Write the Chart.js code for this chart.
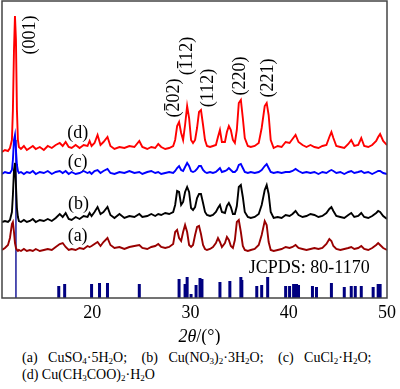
<!DOCTYPE html>
<html>
<head>
<meta charset="utf-8">
<script src="https://cdn.jsdelivr.net/npm/chart.js@4"></script>
<style>
  body { margin: 0; background: #fff; }
  #wrap { position: relative; width: 400px; height: 345px; }
  #caption {
    font-family: "Liberation Serif", "Times New Roman", serif;
    font-size: 14px; line-height: 17px; color: #000;
    margin: 4px 0 0 22px; white-space: nowrap;
  }
  #caption span { margin-right: 11px; }
  sub { font-size: 9px; vertical-align: -2px; line-height: 0; }
</style>
</head>
<body>
<div id="wrap"><canvas id="xrd"></canvas></div>
<div id="caption">
  <span>(a)&nbsp;&nbsp; CuSO<sub>4</sub>·5H<sub>2</sub>O;</span>
  <span>(b)&nbsp;&nbsp; Cu(NO<sub>3</sub>)<sub>2</sub>·3H<sub>2</sub>O;</span>
  <span>(c)&nbsp;&nbsp; CuCl<sub>2</sub>·H<sub>2</sub>O;</span><br>
  (d) Cu(CH<sub>3</sub>COO)<sub>2</sub>·H<sub>2</sub>O
</div>
<script>
// 2theta grid (deg)
const twoTheta = [
  10.80, 11.10, 11.41, 11.61, 11.81, 11.91, 12.02, 12.12, 12.22, 12.32,
  12.42, 12.52, 12.73, 13.03, 13.33, 13.64, 13.94, 14.24, 14.65, 15.06,
  15.46, 15.87, 16.27, 16.68, 16.98, 17.28, 17.59, 17.89, 18.30, 18.70,
  19.11, 19.51, 19.72, 19.92, 20.22, 20.53, 20.83, 21.13, 21.54, 21.84,
  22.25, 22.76, 23.26, 23.77, 24.28, 24.78, 25.09, 25.59, 26.00, 26.40,
  26.71, 27.01, 27.42, 27.82, 28.23, 28.43, 28.63, 28.83, 29.04, 29.24,
  29.44, 29.65, 29.85, 30.05, 30.25, 30.46, 30.66, 30.86, 31.06, 31.27,
  31.47, 31.67, 31.98, 32.28, 32.58, 32.79, 32.99, 33.19, 33.50, 33.70,
  33.90, 34.10, 34.31, 34.51, 34.71, 34.91, 35.12, 35.32, 35.52, 35.83,
  36.13, 36.53, 36.94, 37.24, 37.55, 37.75, 37.95, 38.16, 38.46, 38.87,
  39.27, 39.68, 40.08, 40.38, 40.69, 40.99, 41.40, 41.80, 42.21, 42.61,
  43.02, 43.42, 43.83, 44.13, 44.34, 44.54, 44.84, 45.25, 45.65, 46.06,
  46.36, 46.67, 47.07, 47.38, 47.68, 48.09, 48.49, 48.90, 49.10, 49.30,
  49.61, 50.00
];

// intensities (a.u., curves already offset)
const intensityD = [
  146,148,147,150,158,188,248,282,258,188,
  158,151,149,152,148,150,152,149,151,148,
  152,150,153,155,152,156,151,150,153,150,
  153,152,157,152,155,163,153,156,161,152,
  149,151,150,152,151,157,151,149,151,150,
  154,151,149,150,152,158,172,176,165,158,
  173,192,180,158,155,158,170,186,188,173,
  158,152,151,152,153,161,168,156,156,166,
  172,168,158,155,168,195,198,180,160,152,
  151,152,155,170,192,195,183,158,150,152,
  151,156,155,159,163,156,153,151,153,151,
  150,152,153,161,166,160,152,151,150,154,
  158,152,153,160,152,151,153,157,161,164,
  157,153
];
const intensityC = [
  124,126,125,125,128,138,158,163,148,133,
  127,125,126,124,126,125,127,124,126,125,
  127,124,126,127,125,127,124,126,124,125,
  127,125,126,124,127,128,125,127,129,125,
  124,126,125,127,125,126,124,126,127,125,
  126,124,125,126,125,127,130,132,128,127,
  131,135,132,127,126,127,129,132,132,128,
  126,125,126,125,126,128,130,126,127,128,
  130,128,126,126,128,133,134,130,126,125,
  126,125,126,128,132,134,130,126,125,126,
  125,126,126,127,129,127,125,126,125,126,
  124,126,125,127,128,127,125,126,124,126,
  127,125,126,127,125,126,124,126,127,127,
  125,124
];
const intensityB = [
  76,77,76,78,86,103,128,135,113,90,
  81,77,76,78,76,77,79,76,78,77,
  79,77,80,84,81,85,79,78,81,79,
  82,81,85,82,86,91,84,86,91,83,
  80,84,80,82,81,84,81,82,84,82,
  84,83,85,84,86,93,107,106,93,96,
  106,111,106,90,88,91,100,104,104,95,
  86,83,82,83,86,90,93,86,85,92,
  95,91,84,84,92,111,113,101,86,81,
  80,81,84,93,108,113,104,86,80,81,
  80,83,82,84,87,83,81,82,84,83,
  81,82,85,89,91,87,82,81,80,83,
  85,81,82,85,81,80,82,85,87,86,
  82,79
];
const intensityA = [
  48,50,53,60,74,76,66,55,50,48,
  47,48,47,49,47,48,47,49,47,48,
  49,48,51,54,55,51,48,49,48,50,
  49,52,51,52,54,56,52,56,60,53,
  50,51,49,51,52,53,50,49,51,52,
  54,51,50,51,54,66,68,60,57,66,
  73,66,53,51,53,63,71,72,64,53,
  49,48,49,51,55,60,56,51,55,61,
  58,52,50,58,76,78,66,52,48,47,
  48,49,53,63,77,73,56,48,47,48,
  49,51,50,51,53,50,49,48,49,50,
  49,50,54,59,57,52,49,48,49,50,
  51,49,50,52,49,48,50,53,55,53,
  50,48
];

// JCPDS 80-1170 reference lines
const refMainAngle = 12.22;
const refMainHeight = 158;
const refAngles = [16.58, 17.18, 19.92, 20.73, 21.54, 24.78, 28.83, 29.44, 29.65, 30.05,
  30.56, 30.96, 31.16, 32.99, 34.00, 35.12, 35.22, 36.74, 37.24, 37.85,
  39.68, 40.08, 40.49, 40.79, 40.99, 42.41, 42.82, 44.34, 45.65, 46.36,
  46.77, 47.38, 48.59, 49.10, 49.30];
const refHeights = [12, 14, 14, 15, 15, 14, 19, 14, 21, 4,
  13, 20, 19, 16, 17, 21, 18, 12, 13, 21,
  12, 12, 14, 14, 13, 12, 11, 15, 11, 12,
  12, 12, 11, 14, 14];

const tickValues = [20, 30, 40, 50];

// peak (hkl) labels
const peakTexts = ['(001)', '(202)', '(112)', '(112)', '(220)', '(221)'];
const peakBarIndex = [-1, 1, 1, -1, -1, -1];
const peakAngles = [13.64, 28.33, 29.65, 31.77, 35.02, 37.95];
const peakHeights = [263, 200, 242, 210, 222, 220];

const curveTexts = ['(d)', '(c)', '(b)', '(a)'];
const curveAngles = [18.5, 18.5, 18.6, 18.5];
const curveHeights = [165, 136, 94, 62];

const serif = '"Liberation Serif", "Times New Roman", serif';

function toPoints(vals) {
  return twoTheta.map((t, i) => ({ x: t, y: vals[i] }));
}

let refPoints = [];
refAngles.forEach((a, i) => {
  refPoints.push({ x: a, y: 0 }, { x: a, y: refHeights[i] }, { x: a, y: null });
});

const textPlugin = {
  id: 'xrdText',
  afterDraw(chart) {
    const { ctx, chartArea, scales } = chart;
    const x = scales.x, y = scales.y;
    ctx.save();
    ctx.strokeStyle = '#444';
    ctx.lineWidth = 1.5;
    ctx.strokeRect(chartArea.left, chartArea.top, chartArea.right - chartArea.left, chartArea.bottom - chartArea.top);

    ctx.fillStyle = '#000';
    ctx.font = '18px ' + serif;
    ctx.textBaseline = 'middle';
    peakTexts.forEach((txt, i) => {
      ctx.save();
      ctx.translate(x.getPixelForValue(peakAngles[i]), y.getPixelForValue(peakHeights[i]));
      ctx.rotate(-Math.PI / 2);
      ctx.textAlign = 'center';
      ctx.fillText(txt, 0, 0);
      const k = peakBarIndex[i];
      if (k >= 0) {
        const w = ctx.measureText(txt).width;
        const s = -w / 2 + ctx.measureText(txt.slice(0, k)).width;
        const e = s + ctx.measureText(txt[k]).width;
        ctx.lineWidth = 1.2;
        ctx.strokeStyle = '#000';
        ctx.beginPath();
        ctx.moveTo(s + 1, -9.5);
        ctx.lineTo(e - 1, -9.5);
        ctx.stroke();
      }
      ctx.restore();
    });

    ctx.textAlign = 'center';
    curveTexts.forEach((txt, i) => {
      ctx.fillText(txt, x.getPixelForValue(curveAngles[i]), y.getPixelForValue(curveHeights[i]));
    });

    ctx.textAlign = 'left';
    ctx.fillText('JCPDS: 80-1170', x.getPixelForValue(35.93), y.getPixelForValue(30));

    // axis title: 2θ/(°)
    const cx = (chartArea.left + chartArea.right) / 2 + 5;
    const ty = chartArea.bottom + 39;
    ctx.font = 'italic 18px ' + serif;
    const w1 = ctx.measureText('2θ').width;
    ctx.font = '18px ' + serif;
    const w2 = ctx.measureText('/(°)').width;
    let sx = cx - (w1 + w2) / 2;
    ctx.font = 'italic 18px ' + serif;
    ctx.fillText('2θ', sx, ty);
    ctx.font = '18px ' + serif;
    ctx.fillText('/(°)', sx + w1, ty);
    ctx.restore();
  }
};

const line = (data, color, width) => ({
  data, borderColor: color, borderWidth: width, pointRadius: 0, tension: 0, fill: false, spanGaps: false
});

new Chart(document.getElementById('xrd').getContext('2d'), {
  type: 'line',
  data: {
    datasets: [
      line(toPoints(intensityD), '#ff0000', 1.9),
      line(toPoints(intensityC), '#0000ff', 1.9),
      line(toPoints(intensityB), '#000000', 1.9),
      line(toPoints(intensityA), '#990000', 1.9),
      line([{ x: refMainAngle, y: 0 }, { x: refMainAngle, y: refMainHeight }], '#1a1a99', 1.5),
      Object.assign(line(refPoints, '#000080', 3), { borderCapStyle: 'butt' })
    ]
  },
  options: {
    responsive: true,
    maintainAspectRatio: false,
    animation: false,
    layout: { padding: { left: 2, right: 11, top: 1, bottom: 0 } },
    plugins: { legend: { display: false }, tooltip: { enabled: false } },
    scales: {
      x: {
        type: 'linear', min: 10.8, max: 50,
        grid: { display: false, drawTicks: false },
        border: { display: false },
        afterBuildTicks: s => { s.ticks = tickValues.map(v => ({ value: v })); },
        afterFit: s => { s.height = 47; },
        ticks: { autoSkip: false, maxRotation: 0, padding: 4, color: '#000', font: { family: serif, size: 18 } }
      },
      y: { display: false, min: 0, max: 297 }
    }
  },
  plugins: [textPlugin]
});
</script>
</body>
</html>
